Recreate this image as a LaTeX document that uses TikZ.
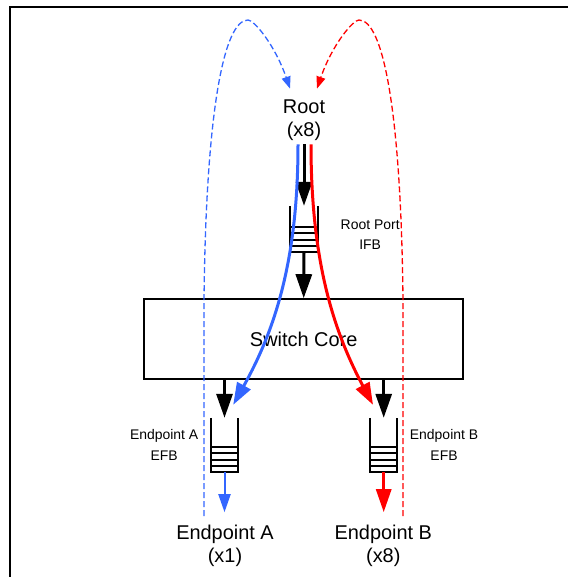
\documentclass[tikz,border=0pt]{standalone}
\usepackage{fontspec}
\setmainfont{Liberation Sans}
\usetikzlibrary{arrows.meta, positioning, calc}

\definecolor{flowblue}{RGB}{51,102,255}
\definecolor{flowred}{RGB}{255,0,0}

\newcommand{\bigtxt}{\fontsize{20}{23}\selectfont}
\newcommand{\smalltxt}{\fontsize{14}{20.7}\selectfont}

% walls and four slots of a buffer node
\newcommand{\fifowalls}[1]{%
	\draw[line width=2bp] (#1.north west) -- (#1.south west) -- (#1.south east) -- (#1.north east);
	\foreach \k in {1,2,3,4}
		\draw[line width=1.8bp] ([yshift=\k*6.3bp]#1.south west) -- ([yshift=\k*6.3bp]#1.south east);
}

\begin{document}
\begin{tikzpicture}[x=1bp, y=-1bp,
		>={Triangle[length=24bp,width=16bp]},
		buffer/.style={minimum width=27bp, inner sep=0pt},
		lbl/.style={font=\smalltxt, align=center},
		flow/.style={line width=3bp, -{Triangle[length=22bp,width=15bp]}},
		loopback/.style={line width=1.3bp, dash pattern=on 6bp off 3bp, -{Triangle[length=12bp,width=9bp]}}]
		\useasboundingbox (0,0) rectangle (568,577);
		\clip (0,0) rectangle (568,577);
		\draw[line width=2.2bp] (10,7) rectangle (620,640);
		
		\node[font=\bigtxt, align=center] (root) at (304,120.5) {Root\\(x8)};
		\node[draw, line width=1.6bp, minimum width=319bp, minimum height=80bp, font=\bigtxt] (core) at (303.7,339) {Switch Core};
		\node[font=\bigtxt, align=center] (epA) at (225,545.5) {Endpoint A\\(x1)};
		\node[font=\bigtxt, align=center] (epB) at (383.3,545.5) {Endpoint B\\(x8)};
		
		\node[buffer, minimum height=46bp] (ifb) at (304,229) {};
		\node[buffer, minimum height=54bp] (efbA) at (224.5,445) {};
		\node[buffer, minimum height=54bp] (efbB) at (383.7,445) {};
		\fifowalls{ifb}
		\fifowalls{efbA}
		\fifowalls{efbB}
		
		\node[lbl, right=19.5bp of ifb, yshift=-5.7bp] (ifblbl) {Root Port\\IFB};
		\node[lbl, left=9bp of efbA] (efbAlbl) {Endpoint A\\EFB};
		\node[lbl, right=9bp of efbB] (efbBlbl) {Endpoint B\\EFB};
		
		\coordinate (aOut) at ([yshift=-40bp]efbA.south);
		\coordinate (bOut) at ([yshift=-40bp]efbB.south);
		\coordinate (aLoop) at ([shift={(-21,-5)}]epA.north);
		\coordinate (bLoop) at ([shift={(19.7,-5)}]epB.north);
		
		\draw[->, line width=3bp] (root.south) -- (ifb.north);
		\draw[->, line width=3bp] (ifb.south) -- (core.north);
		\draw[->, line width=3bp] (efbA.north |- core.south) -- (efbA.north);
		\draw[->, line width=3bp] (efbB.north |- core.south) -- (efbB.north);
		
		\draw[flowblue, line width=2bp, -{Triangle[length=18bp,width=12bp]}] (efbA.south) -- (aOut);
		\draw[flowred, line width=3bp, -{Triangle[length=23bp,width=15bp]}] (efbB.south) -- (bOut);
		
		\draw[loopback, flowblue] (aLoop) -- (204,300) .. controls (206,110) and (224,20) .. (248,20)
			.. controls (254,20) and (275,45) .. ([shift={(-14,-8)}]root.north);
		\draw[loopback, flowred] (bLoop) -- (403,300) .. controls (401,110) and (383,20) .. (359,20)
			.. controls (353,20) and (332,45) .. ([shift={(13,-8)}]root.north);
		
		\draw[flow, flowblue] ([xshift=-6bp]root.south) .. controls (298,260) and (275,330) .. ([shift={(-5,-13)}]efbA.north east);
		\draw[flow, flowred] ([xshift=7bp]root.south) .. controls (311,260) and (333,330) .. ([shift={(3,-13)}]efbB.north west);
	\end{tikzpicture}
\end{document}
